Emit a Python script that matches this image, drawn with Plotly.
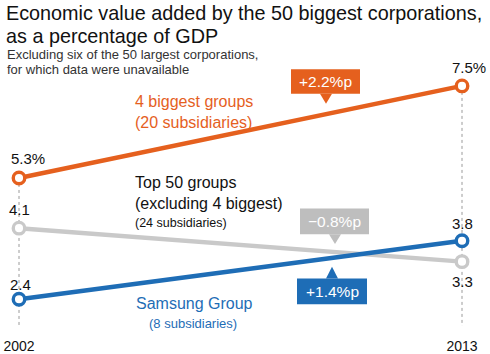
import plotly.graph_objects as go

years = [2002, 2013]
big4 = [5.3, 7.5]
top50 = [4.1, 3.3]
samsung = [2.4, 3.8]
year_labels = ["2002", "2013"]

ORANGE = "#E5601E"
BLUE = "#1E6DB6"
GRAY = "#C9C9C9"
GRAYBOX = "#BEBEBE"
FONT = "Liberation Sans"

W, H = 490, 354
PT, PB = 0, 24          # plot area top / bottom margins
PH = H - PT - PB

def px(x, y):
    return x / W, (PH + PT - y) / PH

fig = go.Figure()

# dotted guide lines
for i, yr in enumerate(years):
    top = max(big4[i], top50[i], samsung[i])
    fig.add_shape(type="line", xref="x", yref="y", x0=yr, x1=yr, y0=top, y1=1.70,
                  line=dict(color="#9A9A9A", width=1, dash="dot"), layer="below")

for vals, col in [(top50, GRAY), (samsung, BLUE), (big4, ORANGE)]:
    fig.add_trace(go.Scatter(
        x=years, y=vals, mode="lines+markers",
        line=dict(color=col, width=4.5),
        marker=dict(symbol="circle", size=11.5, color="white", line=dict(color=col, width=3.4)),
        cliponaxis=False, hoverinfo="skip", showlegend=False))

ann = []
def text(x, y, s, size, color="#111", anchor="left"):
    xp, yp = px(x, y)
    ann.append(dict(x=xp, y=yp, xref="paper", yref="paper", text=s, showarrow=False,
                    xanchor=anchor, yanchor="middle", font=dict(family=FONT, size=size, color=color)))

# title
text(4, 13, "Economic value added by the 50 biggest corporations,", 19.8)
text(4, 36, "as a percentage of GDP", 19.8)
text(5, 55, "Excluding six of the 50 largest corporations,", 13, "#333")
text(5, 70, "for which data were unavailable", 13, "#333")

# value labels
text(28, 160, "5.3%", 15, anchor="center")
text(19, 212, "4.1", 15, anchor="center")
text(20, 288, "2.4", 15, anchor="center")
text(469, 68, "7.5%", 15, anchor="center")
text(462, 226, "3.8", 15, anchor="center")
text(462, 285, "3.3", 15, anchor="center")

# series labels
text(133, 103, "4 biggest groups", 16, ORANGE)
text(133, 124, "(20 subsidiaries)", 16, ORANGE)
text(133, 185, "Top 50 groups", 16)
text(133, 206, "(excluding 4 biggest)", 16)
text(133, 226, "(24 subsidiaries)", 12.5)
text(134, 307, "Samsung Group", 16, BLUE)
text(147, 327, "(8 subsidiaries)", 13, BLUE)

# callout boxes
def box(x0, y0, x1, y1, tipx, tipy, col, label):
    a = px(x0, y0); b = px(x1, y1)
    fig.add_shape(type="rect", xref="paper", yref="paper", x0=a[0], y0=a[1], x1=b[0], y1=b[1],
                  fillcolor=col, line=dict(width=0))
    base = y1 if tipy > y1 else y0
    p1 = px(tipx - 6, base); p2 = px(tipx + 6, base); p3 = px(tipx, tipy)
    fig.add_shape(type="path", xref="paper", yref="paper",
                  path=f"M {p1[0]} {p1[1]} L {p2[0]} {p2[1]} L {p3[0]} {p3[1]} Z",
                  fillcolor=col, line=dict(width=0))
    text((x0 + x1) / 2, (y0 + y1) / 2, label, 15.5, "white", anchor="center")

box(291, 70, 360, 95, 326, 105, ORANGE, "+2.2%p")
box(300, 211, 369, 237, 335, 247, GRAYBOX, "\u22120.8%p")
box(297, 282, 367, 308, 332, 270, BLUE, "+1.4%p")

fig.update_layout(
    width=W, height=H, margin=dict(l=0, r=0, t=PT, b=PB),
    paper_bgcolor="white", plot_bgcolor="white",
    annotations=ann,
    xaxis=dict(range=[2001.528, 2013.695], tickvals=years, ticktext=year_labels,
               showgrid=False, zeroline=False, showline=False,
               ticks="outside", ticklen=7, tickcolor="rgba(0,0,0,0)",
               tickfont=dict(family=FONT, size=14, color="#111")),
    yaxis=dict(range=[(404.6 - PH) / 42.35, 404.6 / 42.35], visible=False),
)

fig.write_html("out.html")
